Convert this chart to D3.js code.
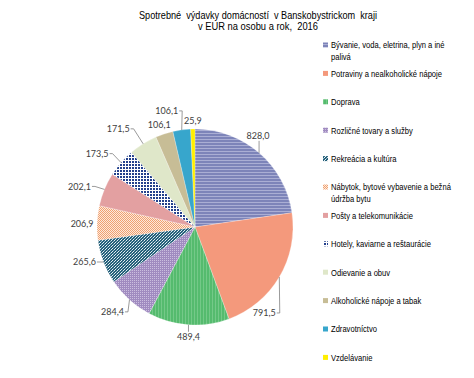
<!DOCTYPE html>
<html>
<head>
<meta charset="utf-8">
<script src="https://cdn.jsdelivr.net/npm/d3@7"></script>
<style>
  body { margin: 0; background: #fff; }
  svg { display: block; }
</style>
</head>
<body>
<svg id="svg" width="474" height="378"></svg>
<script>
// data
let titleLines = ['Spotrebné  výdavky domácností  v Banskobystrickom  kraji', 'v EUR na osobu a rok,  2016'];
let categories = [
  'Bývanie, voda, eletrina, plyn a iné palivá',
  'Potraviny a nealkoholické nápoje',
  'Doprava',
  'Rozličné tovary a služby',
  'Rekreácia a kultúra',
  'Nábytok, bytové vybavenie a bežná údržba bytu',
  'Pošty a telekomunikácie',
  'Hotely, kaviarne a reštaurácie',
  'Odievanie a obuv',
  'Alkoholické nápoje a tabak',
  'Zdravotníctvo',
  'Vzdelávanie'
];
let values = [828.0, 791.5, 489.4, 284.4, 265.6, 206.9, 202.1, 173.5, 171.5, 106.1, 106.1, 25.9];

// layout only: label offset from the slice edge point, and leader style
let labelShift = [[-1, -17], [-15, 36], [0, 12], [-17, 12], [-19, 0], [-15, 1], [-25, -3], [-24, -9], [-25, -15], [-5, -9], [-15, -19], [0, -8]];
let leaderType = ['vert', 'side', 'vert', 'side', 'side', 'none', 'side', 'side', 'side', 'none', 'side', 'none'];

let svg = d3.select('#svg');
let defs = svg.append('defs');

function makePattern(id, w, h, bg, rects) {
  let p = defs.append('pattern')
    .attr('id', id)
    .attr('patternUnits', 'userSpaceOnUse')
    .attr('width', w)
    .attr('height', h);
  p.append('rect').attr('width', w).attr('height', h).attr('fill', bg);
  rects.forEach(r => {
    p.append('rect')
      .attr('x', r[0]).attr('y', r[1])
      .attr('width', r[2]).attr('height', r[3])
      .attr('fill', r[4])
      .attr('shape-rendering', 'crispEdges');
  });
  return `url(#${id})`;
}

let fills = [
  makePattern('p0', 4, 3, '#7d84b9', [[0, 2, 4, 1, '#aaaed4']]),
  '#f4997c',
  makePattern('p2', 3, 3, '#55bb6e', [[2, 0, 1, 3, '#74c988']]),
  makePattern('p3', 2, 2, '#a08bc0', [[1, 1, 1, 1, '#cbbedf']]),
  makePattern('p4', 3, 3, '#25607a', [[1, 0, 1, 1, '#e4eef2'], [0, 1, 1, 1, '#e4eef2'], [2, 2, 1, 1, '#9fbfcb']]),
  makePattern('p5', 2, 2, '#efa171', [[1, 0, 1, 1, '#fde9dc'], [0, 1, 1, 1, '#fde9dc']]),
  '#e3a0a1',
  makePattern('p7', 3, 3, '#ffffff', [[0, 0, 2, 2, '#23408c']]),
  '#dfe7c9',
  '#c7bd96',
  '#37a6cc',
  '#ffef00'
];

let narrowFont = '"Liberation Sans", Arial, sans-serif';

// title, squeezed to look like a narrow face
let titleWidths = [238, 120];
svg.append('g')
  .selectAll('text')
  .data(titleLines)
  .enter()
  .append('text')
  .attr('x', 258)
  .attr('y', (d, i) => 19 + i * 11)
  .attr('text-anchor', 'middle')
  .attr('font-family', narrowFont)
  .attr('font-size', 11)
  .attr('fill', '#000')
  .attr('textLength', (d, i) => titleWidths[i])
  .attr('lengthAdjust', 'spacingAndGlyphs')
  .style('white-space', 'pre')
  .text(d => d);

// pie
let cx = 195, cy = 227, radius = 98;
let pie = d3.pie().sort(null).value(d => d);
let arcs = pie(values);
let arc = d3.arc().innerRadius(0).outerRadius(radius);

let gPie = svg.append('g')
  .attr('transform', `translate(${cx},${cy})`);

gPie.selectAll('path')
  .data(arcs)
  .enter()
  .append('path')
  .attr('d', arc)
  .attr('fill', (d, i) => fills[i])
  .attr('stroke', '#ffffff')
  .attr('stroke-width', 0.25);

// labels
let fmt = d => d3.format('.1f')(d).replace('.', ',');
let labelFont = 'Lato, "Open Sans", sans-serif';

arcs.forEach((d, i) => {
  let mid = (d.startAngle + d.endAngle) / 2;
  let ex = Math.sin(mid) * radius;
  let ey = -Math.cos(mid) * radius;
  let lx = ex + labelShift[i][0];
  let ly = ey + labelShift[i][1];

  let t = gPie.append('text')
    .attr('x', lx)
    .attr('y', ly)
    .attr('dy', '0.35em')
    .attr('text-anchor', 'middle')
    .attr('font-family', labelFont)
    .attr('font-size', 9)
    .attr('fill', '#404040')
    .text(fmt(d.data));
  let w = t.node().getComputedTextLength();

  let path = null;
  if (leaderType[i] === 'vert') {
    let yEnd = ly + (ey < ly ? -5 : 5);
    path = `M${ex},${ey}V${yEnd}`;
  } else if (leaderType[i] === 'side') {
    let xStart = lx + w / 2 + 1;
    path = `M${xStart},${ly}H${xStart + 3}L${ex},${ey}`;
  }
  if (path) {
    gPie.append('path')
      .attr('d', path)
      .attr('fill', 'none')
      .attr('stroke', '#808080')
      .attr('stroke-width', 0.8);
  }
});

// legend
let squeeze = 0.8;
let maxLine = 134;
let legendY = d3.scalePoint()
  .domain(d3.range(categories.length))
  .range([45, 357.4]);

let gLegend = svg.append('g');
categories.forEach((name, i) => {
  let y = legendY(i);
  gLegend.append('rect')
    .attr('x', 323)
    .attr('y', y - 2.5)
    .attr('width', 5)
    .attr('height', 5)
    .attr('fill', fills[i]);

  let t = gLegend.append('text')
    .attr('transform', `translate(331,${y}) scale(${squeeze},1)`)
    .attr('dy', '0.35em')
    .attr('font-family', narrowFont)
    .attr('font-size', 9.5)
    .attr('fill', '#000');

  // simple word wrap
  let words = name.split(' ');
  let line = [];
  let tspan = t.append('tspan').attr('x', 0);
  words.forEach(word => {
    line.push(word);
    tspan.text(line.join(' '));
    if (tspan.node().getComputedTextLength() * squeeze > maxLine && line.length > 1) {
      line.pop();
      tspan.text(line.join(' '));
      line = [word];
      tspan = t.append('tspan').attr('x', 0).attr('dy', 11.5).text(word);
    }
  });
});
</script>
</body>
</html>
